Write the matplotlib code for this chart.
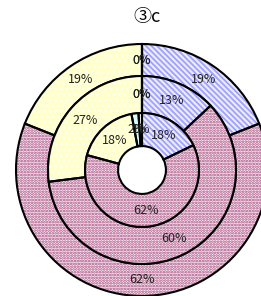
import numpy as np
import matplotlib
matplotlib.use("Agg")
import matplotlib.pyplot as plt

plt.rcParams["font.family"] = ["Noto Sans CJK JP", "DejaVu Sans"]
plt.rcParams["hatch.linewidth"] = 1.3

title = "③c"
# clockwise from 12 o'clock: hatched blue, dotted pink, yellow, two tiny slices
outer_vals = [19, 62, 19, 0, 0]
middle_vals = [13, 60, 27, 0, 0]
inner_vals = [18, 62, 18, 2, 1]

face_colors = ["#ececff", "#faf0f5", "#ffffcc", "#d8ffff", "#f4ffff"]
hatch_colors = ["#a0a0ff", "#a84a80", "#ffffee", "#d8ffff", "#f4ffff"]
hatches = ["\\\\\\\\\\\\", "......", "...", None, None]

# ring geometry (outer radius, width) in units of the outer radius
rings = [
    (outer_vals, 1.0, 0.254),
    (middle_vals, 0.746, 0.294),
    (inner_vals, 0.452, 0.262),
]

fig = plt.figure(figsize=(2.61, 2.96), dpi=100)
ax = fig.add_axes([0, 0, 1, 1])

for vals, r, w in rings:
    # filled / patterned layer
    wedges, _ = ax.pie(vals, radius=r, startangle=90, counterclock=False,
                       wedgeprops=dict(width=w, linewidth=0))
    for wd, fc, hc, h in zip(wedges, face_colors, hatch_colors, hatches):
        wd.set_facecolor(fc)
        if h:
            wd.set_hatch(h)
            wd.set_edgecolor(hc)
        wd.set_linewidth(0)
    # outline layer
    ax.pie(vals, radius=r, startangle=90, counterclock=False,
           wedgeprops=dict(width=w, facecolor="none", edgecolor="black",
                           linewidth=1.5))

    total = float(sum(vals))
    cum = np.cumsum(vals) - np.array(vals) / 2.0
    rm = r - w / 2.0
    for v, c in zip(vals, cum):
        ang = np.deg2rad(90 - c / total * 360.0)
        ax.text(rm * np.cos(ang), rm * np.sin(ang), f"{v:.0f}%",
                ha="center", va="center", fontsize=9, color="#222222")

ax.set_aspect("auto")
ax.set_xlim(-142 / 126, (261 - 142) / 126)
ax.set_ylim(-(296 - 170) / 126, 170 / 126)
ax.axis("off")

fig.text(147 / 261, 1 - 17 / 296, title, ha="center", va="center", fontsize=13)

fig.savefig("out.png", dpi=100)
